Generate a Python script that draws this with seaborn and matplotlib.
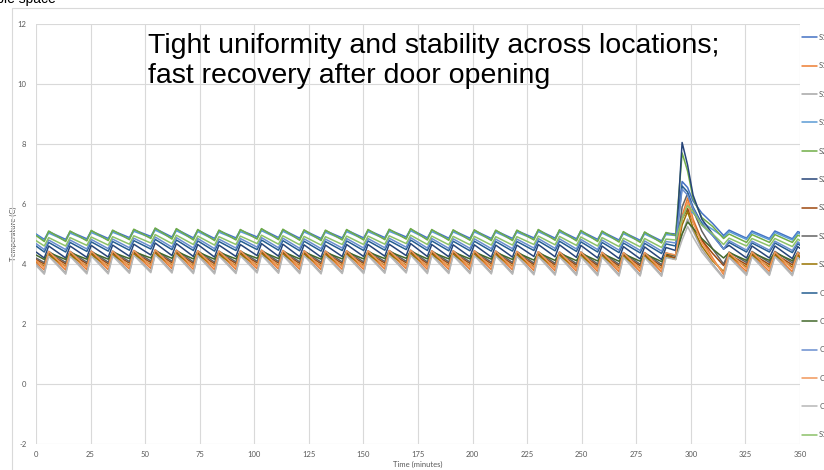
import matplotlib
matplotlib.use("Agg")
import matplotlib.pyplot as plt
from matplotlib.patches import Rectangle
import pandas as pd
import seaborn as sns

# Sample times (minutes): start, then trough / peak of each cooling cycle,
# the door-opening event, and the cycles after recovery.
time_min = [0.0,
    3.8, 5.8, 13.6, 15.6, 23.3, 25.3, 33.1, 35.1, 42.8, 44.8,
    52.6, 54.6, 62.3, 64.3, 72.1, 74.1, 81.8, 83.8, 91.6, 93.6,
    101.3, 103.3, 111.1, 113.1, 120.8, 122.8, 130.6, 132.6, 140.3, 142.3,
    150.1, 152.1, 159.8, 161.8, 169.6, 171.6, 179.3, 181.3, 189.1, 191.1,
    198.8, 200.8, 208.6, 210.6, 218.3, 220.3, 228.1, 230.1, 237.8, 239.8,
    247.6, 249.6, 257.3, 259.3, 267.1, 269.1, 276.8, 278.8, 286.6, 288.6,
    293.0, 296.0, 298.5, 301.0, 305.0, 310.0, 315.0,
    317.5, 325.5, 328.0, 336.0, 338.5, 346.5, 349.0, 350.0]

sensor_names = ["S1-1", "S1-2", "S1-3", "S1-4", "S2-1", "S2-2", "S2-3", "S2-4",
                "S2-5", "CF-1", "CF-2", "CF-3", "CF-4", "CF-5", "S1-5"]

s1_1 = [5.00,
    4.82, 5.08, 4.82, 5.08, 4.84, 5.10, 4.85, 5.11, 4.88, 5.14,
    4.92, 5.18, 4.90, 5.16, 4.87, 5.13, 4.85, 5.11, 4.87, 5.13,
    4.90, 5.16, 4.88, 5.14, 4.86, 5.12, 4.85, 5.11, 4.87, 5.13,
    4.87, 5.13, 4.88, 5.14, 4.90, 5.16, 4.87, 5.13, 4.86, 5.12,
    4.86, 5.12, 4.85, 5.11, 4.85, 5.11, 4.87, 5.13, 4.86, 5.12,
    4.84, 5.10, 4.82, 5.08, 4.80, 5.06, 4.79, 5.05, 4.77, 5.03,
    5.00, 6.75, 6.55, 6.10, 5.70, 5.35, 4.95,
    5.13, 4.86, 5.10, 4.85, 5.10, 4.84, 5.08, 5.05]
s1_2 = [4.05,
    3.80, 4.35, 3.80, 4.35, 3.81, 4.36, 3.81, 4.36, 3.83, 4.38,
    3.85, 4.40, 3.84, 4.39, 3.82, 4.37, 3.81, 4.36, 3.82, 4.37,
    3.84, 4.39, 3.83, 4.38, 3.82, 4.37, 3.81, 4.36, 3.82, 4.37,
    3.82, 4.37, 3.83, 4.38, 3.84, 4.39, 3.82, 4.37, 3.82, 4.37,
    3.82, 4.37, 3.81, 4.36, 3.80, 4.35, 3.78, 4.34, 3.77, 4.33,
    3.76, 4.33, 3.75, 4.32, 3.74, 4.31, 3.74, 4.31, 3.73, 4.30,
    4.30, 5.60, 6.20, 5.50, 4.80, 4.20, 3.65,
    4.30, 3.75, 4.32, 3.75, 4.32, 3.74, 4.30, 4.22]
s1_3 = [4.00,
    3.70, 4.30, 3.70, 4.30, 3.71, 4.31, 3.71, 4.31, 3.73, 4.33,
    3.75, 4.35, 3.74, 4.34, 3.72, 4.32, 3.71, 4.31, 3.72, 4.32,
    3.74, 4.34, 3.73, 4.33, 3.72, 4.32, 3.71, 4.31, 3.72, 4.32,
    3.72, 4.32, 3.73, 4.33, 3.74, 4.34, 3.72, 4.32, 3.72, 4.32,
    3.72, 4.32, 3.71, 4.31, 3.70, 4.30, 3.68, 4.29, 3.67, 4.28,
    3.66, 4.28, 3.65, 4.27, 3.64, 4.26, 3.64, 4.26, 3.63, 4.25,
    4.20, 5.00, 5.50, 5.10, 4.50, 4.00, 3.55,
    4.25, 3.66, 4.28, 3.66, 4.28, 3.65, 4.26, 4.18]
s1_4 = [4.98,
    4.78, 5.03, 4.78, 5.03, 4.80, 5.05, 4.81, 5.06, 4.84, 5.09,
    4.88, 5.13, 4.86, 5.11, 4.83, 5.08, 4.81, 5.06, 4.83, 5.08,
    4.86, 5.11, 4.84, 5.09, 4.82, 5.07, 4.81, 5.06, 4.83, 5.08,
    4.83, 5.08, 4.84, 5.09, 4.86, 5.11, 4.83, 5.08, 4.82, 5.07,
    4.82, 5.07, 4.81, 5.06, 4.81, 5.06, 4.83, 5.08, 4.82, 5.07,
    4.80, 5.05, 4.78, 5.03, 4.76, 5.01, 4.75, 5.00, 4.73, 4.98,
    4.95, 5.60, 5.80, 5.70, 5.40, 5.15, 4.90,
    5.08, 4.82, 5.05, 4.81, 5.05, 4.80, 5.03, 5.00]
s2_1 = [4.95,
    4.75, 5.10, 4.75, 5.10, 4.77, 5.12, 4.78, 5.13, 4.81, 5.16,
    4.85, 5.20, 4.83, 5.18, 4.80, 5.15, 4.78, 5.13, 4.80, 5.15,
    4.83, 5.18, 4.81, 5.16, 4.79, 5.14, 4.78, 5.13, 4.80, 5.15,
    4.80, 5.15, 4.81, 5.16, 4.83, 5.18, 4.80, 5.15, 4.79, 5.14,
    4.79, 5.14, 4.78, 5.13, 4.78, 5.13, 4.80, 5.15, 4.79, 5.14,
    4.77, 5.12, 4.75, 5.10, 4.73, 5.08, 4.72, 5.07, 4.70, 5.05,
    4.95, 7.70, 7.10, 6.20, 5.55, 5.25, 4.85,
    5.00, 4.72, 4.98, 4.72, 4.98, 4.72, 4.96, 4.93]
s2_2 = [4.40,
    4.20, 4.60, 4.20, 4.60, 4.22, 4.62, 4.23, 4.63, 4.26, 4.66,
    4.30, 4.70, 4.28, 4.68, 4.25, 4.65, 4.23, 4.63, 4.25, 4.65,
    4.28, 4.68, 4.26, 4.66, 4.24, 4.64, 4.23, 4.63, 4.25, 4.65,
    4.25, 4.65, 4.26, 4.66, 4.28, 4.68, 4.25, 4.65, 4.24, 4.64,
    4.24, 4.64, 4.23, 4.63, 4.23, 4.63, 4.25, 4.65, 4.24, 4.64,
    4.22, 4.62, 4.20, 4.60, 4.18, 4.58, 4.17, 4.57, 4.15, 4.55,
    4.45, 8.05, 7.30, 6.30, 5.50, 5.00, 4.50,
    4.62, 4.20, 4.60, 4.20, 4.60, 4.18, 4.58, 4.52]
s2_3 = [4.15,
    4.00, 4.35, 4.00, 4.35, 4.01, 4.36, 4.01, 4.36, 4.03, 4.38,
    4.05, 4.40, 4.04, 4.39, 4.02, 4.37, 4.01, 4.36, 4.02, 4.37,
    4.04, 4.39, 4.03, 4.38, 4.02, 4.37, 4.01, 4.36, 4.02, 4.37,
    4.02, 4.37, 4.03, 4.38, 4.04, 4.39, 4.02, 4.37, 4.02, 4.37,
    4.02, 4.37, 4.01, 4.36, 4.00, 4.35, 3.98, 4.34, 3.97, 4.33,
    3.96, 4.33, 3.95, 4.32, 3.94, 4.31, 3.94, 4.31, 3.93, 4.30,
    4.20, 5.50, 5.85, 5.40, 4.80, 4.35, 3.95,
    4.32, 3.98, 4.34, 3.98, 4.34, 3.97, 4.32, 4.26]
s2_4 = [4.20,
    4.05, 4.42, 4.05, 4.42, 4.06, 4.43, 4.06, 4.43, 4.08, 4.45,
    4.10, 4.47, 4.09, 4.46, 4.07, 4.44, 4.06, 4.43, 4.07, 4.44,
    4.09, 4.46, 4.08, 4.45, 4.07, 4.44, 4.06, 4.43, 4.07, 4.44,
    4.07, 4.44, 4.08, 4.45, 4.09, 4.46, 4.07, 4.44, 4.07, 4.44,
    4.07, 4.44, 4.06, 4.43, 4.05, 4.42, 4.03, 4.41, 4.02, 4.40,
    4.01, 4.40, 4.00, 4.39, 3.99, 4.38, 3.99, 4.38, 3.98, 4.37,
    4.25, 5.90, 6.35, 5.80, 5.10, 4.50, 4.00,
    4.40, 4.05, 4.42, 4.05, 4.42, 4.04, 4.40, 4.34]
s2_5 = [4.10,
    3.92, 4.30, 3.92, 4.30, 3.93, 4.31, 3.93, 4.31, 3.95, 4.33,
    3.97, 4.35, 3.96, 4.34, 3.94, 4.32, 3.93, 4.31, 3.94, 4.32,
    3.96, 4.34, 3.95, 4.33, 3.94, 4.32, 3.93, 4.31, 3.94, 4.32,
    3.94, 4.32, 3.95, 4.33, 3.96, 4.34, 3.94, 4.32, 3.94, 4.32,
    3.94, 4.32, 3.93, 4.31, 3.92, 4.30, 3.90, 4.29, 3.89, 4.28,
    3.88, 4.28, 3.87, 4.27, 3.86, 4.26, 3.86, 4.26, 3.85, 4.25,
    4.15, 5.30, 5.75, 5.20, 4.60, 4.10, 3.75,
    4.28, 3.90, 4.30, 3.90, 4.30, 3.89, 4.28, 4.20]
cf_1 = [4.60,
    4.40, 4.72, 4.40, 4.72, 4.42, 4.74, 4.43, 4.75, 4.46, 4.78,
    4.50, 4.82, 4.48, 4.80, 4.45, 4.77, 4.43, 4.75, 4.45, 4.77,
    4.48, 4.80, 4.46, 4.78, 4.44, 4.76, 4.43, 4.75, 4.45, 4.77,
    4.45, 4.77, 4.46, 4.78, 4.48, 4.80, 4.45, 4.77, 4.44, 4.76,
    4.44, 4.76, 4.43, 4.75, 4.43, 4.75, 4.45, 4.77, 4.44, 4.76,
    4.42, 4.74, 4.40, 4.72, 4.38, 4.70, 4.37, 4.69, 4.35, 4.67,
    4.60, 6.60, 6.40, 5.90, 5.35, 4.95, 4.50,
    4.72, 4.40, 4.70, 4.40, 4.70, 4.38, 4.68, 4.62]
cf_2 = [4.30,
    4.15, 4.38, 4.15, 4.38, 4.16, 4.39, 4.16, 4.39, 4.18, 4.41,
    4.20, 4.43, 4.19, 4.42, 4.17, 4.40, 4.16, 4.39, 4.17, 4.40,
    4.19, 4.42, 4.18, 4.41, 4.17, 4.40, 4.16, 4.39, 4.17, 4.40,
    4.17, 4.40, 4.18, 4.41, 4.19, 4.42, 4.17, 4.40, 4.17, 4.40,
    4.17, 4.40, 4.16, 4.39, 4.15, 4.38, 4.13, 4.37, 4.12, 4.36,
    4.11, 4.36, 4.10, 4.35, 4.09, 4.34, 4.09, 4.34, 4.08, 4.33,
    4.30, 5.00, 5.40, 5.20, 4.85, 4.50, 4.20,
    4.38, 4.12, 4.38, 4.12, 4.38, 4.11, 4.36, 4.32]
cf_3 = [4.68,
    4.48, 4.80, 4.48, 4.80, 4.50, 4.82, 4.51, 4.83, 4.54, 4.86,
    4.58, 4.90, 4.56, 4.88, 4.53, 4.85, 4.51, 4.83, 4.53, 4.85,
    4.56, 4.88, 4.54, 4.86, 4.52, 4.84, 4.51, 4.83, 4.53, 4.85,
    4.53, 4.85, 4.54, 4.86, 4.56, 4.88, 4.53, 4.85, 4.52, 4.84,
    4.52, 4.84, 4.51, 4.83, 4.51, 4.83, 4.53, 4.85, 4.52, 4.84,
    4.50, 4.82, 4.48, 4.80, 4.46, 4.78, 4.45, 4.77, 4.43, 4.75,
    4.70, 6.50, 6.30, 5.85, 5.30, 4.95, 4.50,
    4.78, 4.46, 4.76, 4.46, 4.76, 4.45, 4.74, 4.68]
cf_4 = [4.12,
    3.88, 4.42, 3.88, 4.42, 3.89, 4.43, 3.89, 4.43, 3.91, 4.45,
    3.93, 4.47, 3.92, 4.46, 3.90, 4.44, 3.89, 4.43, 3.90, 4.44,
    3.92, 4.46, 3.91, 4.45, 3.90, 4.44, 3.89, 4.43, 3.90, 4.44,
    3.90, 4.44, 3.91, 4.45, 3.92, 4.46, 3.90, 4.44, 3.90, 4.44,
    3.90, 4.44, 3.89, 4.43, 3.88, 4.42, 3.86, 4.41, 3.85, 4.40,
    3.84, 4.40, 3.83, 4.39, 3.82, 4.38, 3.82, 4.38, 3.81, 4.37,
    4.30, 5.50, 6.05, 5.40, 4.70, 4.15, 3.70,
    4.38, 3.84, 4.40, 3.84, 4.40, 3.83, 4.38, 4.30]
cf_5 = [3.95,
    3.66, 4.26, 3.66, 4.26, 3.67, 4.27, 3.67, 4.27, 3.69, 4.29,
    3.71, 4.31, 3.70, 4.30, 3.68, 4.28, 3.67, 4.27, 3.68, 4.28,
    3.70, 4.30, 3.69, 4.29, 3.68, 4.28, 3.67, 4.27, 3.68, 4.28,
    3.68, 4.28, 3.69, 4.29, 3.70, 4.30, 3.68, 4.28, 3.68, 4.28,
    3.68, 4.28, 3.67, 4.27, 3.66, 4.26, 3.64, 4.25, 3.63, 4.24,
    3.62, 4.24, 3.61, 4.23, 3.60, 4.22, 3.60, 4.22, 3.59, 4.21,
    4.15, 4.80, 5.25, 4.90, 4.40, 3.95, 3.52,
    4.22, 3.62, 4.24, 3.62, 4.24, 3.61, 4.22, 4.14]
s1_5 = [4.78,
    4.60, 4.88, 4.60, 4.88, 4.62, 4.90, 4.63, 4.91, 4.66, 4.94,
    4.70, 4.98, 4.68, 4.96, 4.65, 4.93, 4.63, 4.91, 4.65, 4.93,
    4.68, 4.96, 4.66, 4.94, 4.64, 4.92, 4.63, 4.91, 4.65, 4.93,
    4.65, 4.93, 4.66, 4.94, 4.68, 4.96, 4.65, 4.93, 4.64, 4.92,
    4.64, 4.92, 4.63, 4.91, 4.63, 4.91, 4.65, 4.93, 4.64, 4.92,
    4.62, 4.90, 4.60, 4.88, 4.58, 4.86, 4.57, 4.85, 4.55, 4.83,
    4.80, 5.50, 5.95, 5.75, 5.30, 5.00, 4.65,
    4.86, 4.60, 4.85, 4.60, 4.85, 4.58, 4.83, 4.78]

series_values = [s1_1, s1_2, s1_3, s1_4, s2_1, s2_2, s2_3, s2_4,
                 s2_5, cf_1, cf_2, cf_3, cf_4, cf_5, s1_5]

line_colors = ["#4472C4", "#ED7D31", "#A5A5A5", "#5B9BD5", "#70AD47",
               "#264478", "#9E480E", "#636363", "#997300", "#255E91",
               "#43682B", "#698ED0", "#F1975A", "#B7B7B7", "#8CC168"]

y_ticks = [-2, 0, 2, 4, 6, 8, 10, 12]
x_ticks = [0, 25, 50, 75, 100, 125, 150, 175, 200, 225, 250, 275, 300, 325, 350]

rows = []
for name, vals in zip(sensor_names, series_values):
    for t, v in zip(time_min, vals):
        rows.append({"Time (minutes)": t, "Temperature (C)": v, "Sensor": name})
df = pd.DataFrame(rows)

sns.set_theme(style="white")
plt.rcParams["font.family"] = ["Lato", "DejaVu Sans"]
plt.rcParams["axes.unicode_minus"] = False

W, H = 824, 470
fig = plt.figure(figsize=(W / 100, H / 100), dpi=100)
fig.patch.set_facecolor("white")

# outer chart frame
fig.patches.append(Rectangle((12 / W, -0.2), 1.2, 1.2 - 8 / H, transform=fig.transFigure,
                             facecolor="none", edgecolor="#D9D9D9", linewidth=0.8))

ax = fig.add_axes([36 / W, 1 - 444 / H, (800 - 36) / W, 420 / H])
ax.set_facecolor("white")

sns.lineplot(data=df, x="Time (minutes)", y="Temperature (C)", hue="Sensor",
             hue_order=sensor_names, palette=line_colors, estimator=None,
             sort=False, linewidth=1.1, ax=ax)

handles, labels = ax.get_legend_handles_labels()
ax.get_legend().remove()

ax.set_xlim(0, 350)
ax.set_ylim(-2, 12)
ax.set_xticks(x_ticks)
ax.set_yticks(y_ticks)
ax.grid(True, color="#D9D9D9", linewidth=0.8)
ax.set_axisbelow(True)
for sp in ax.spines.values():
    sp.set_visible(False)
ax.tick_params(length=0, labelsize=5.5, labelcolor="#595959")
ax.tick_params(axis="y", pad=7)
ax.tick_params(axis="x", pad=5)
ax.set_xlabel("Time (minutes)", fontsize=5.5, color="#595959", labelpad=2)
ax.set_ylabel("Temperature (C)", fontsize=5.5, color="#595959", labelpad=0)

fig.legend(handles, labels, loc="upper left", bbox_to_anchor=(802 / W, 1 - 34 / H),
           frameon=False, fontsize=5.5, labelcolor="#595959", labelspacing=2.8,
           handlelength=2.0, handletextpad=0.25, borderaxespad=0, borderpad=0)

fig.text(148 / W, 1 - 33 / H,
         "Tight uniformity and stability across locations;\nfast recovery after door opening",
         ha="left", va="top", fontsize=20.5, color="black", linespacing=1.22,
         family=["Liberation Sans", "DejaVu Sans"])

fig.text(56 / W, 1 - 3 / H, "Temperature mapping of usable space", ha="right",
         va="baseline", fontsize=10, color="black",
         family=["Liberation Sans", "DejaVu Sans"])

fig.savefig("out.png", dpi=100)
